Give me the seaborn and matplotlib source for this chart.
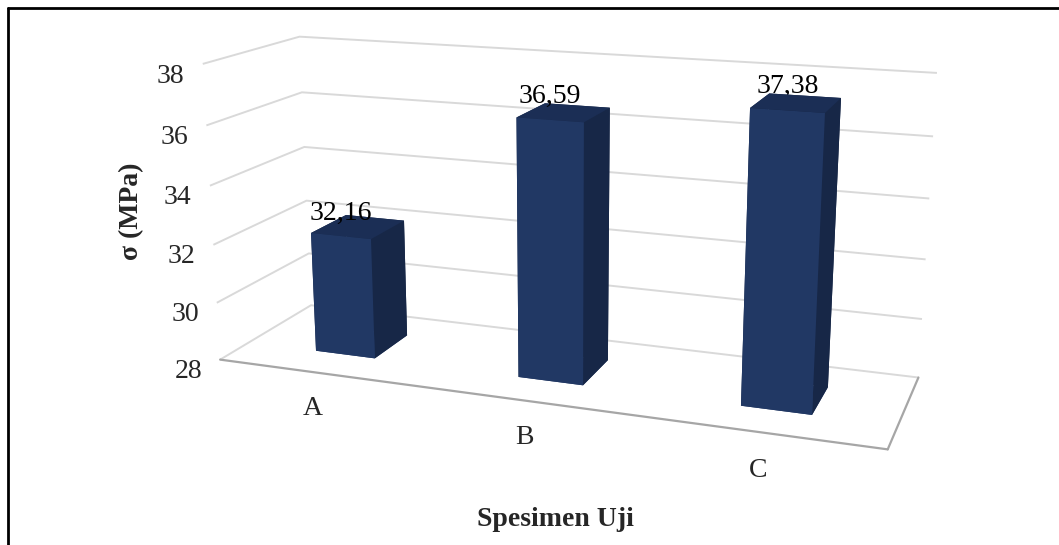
import matplotlib
matplotlib.use("Agg")
import matplotlib.pyplot as plt
from matplotlib.lines import Line2D
from matplotlib.transforms import ScaledTranslation
import numpy as np
import pandas as pd
import seaborn as sns

# ---- data -------------------------------------------------------------
categories = ["A", "B", "C"]
strength = [32.16, 36.59, 37.38]          # sigma (MPa)
value_labels = ["32,16", "36,59", "37,38"]
z_ticks = [28, 30, 32, 34, 36, 38]
z_tick_labels = ["28", "30", "32", "34", "36", "38"]

df = pd.DataFrame({"specimen": categories, "sigma": strength})

# ---- style ------------------------------------------------------------
sns.set_theme(style="white")
plt.rcParams["font.family"] = ["Liberation Serif", "DejaVu Serif"]
plt.rcParams["axes3d.automargin"] = False

base = "#213864"
front_c = base
top_c = "#1b2e55"
side_c = "#172747"
grid_c = "#d9d9d9"
floor_edge_c = "#a6a6a6"

W, H = 1059, 545
fig = plt.figure(figsize=(W / 100, H / 100), dpi=100)
side = 1100
cx, cy = 549, 308          # axes centre, pixels from bottom-left
ax = fig.add_axes([(cx - side / 2) / W, (cy - side / 2) / H, side / W, side / H],
                  projection="3d")

z0 = z_ticks[0]
bar_w, bar_d, bar_y0 = 0.30, 0.40, 0.30

for i, row in df.iterrows():
    # face order: bottom, top, front, back, left, right
    ax.bar3d(i - bar_w / 2, bar_y0, z0, bar_w, bar_d, row["sigma"] - z0,
             color=[base, top_c, front_c, side_c, side_c, side_c],
             shade=False, edgecolor="none")
    ax.text(i, bar_y0, row["sigma"] + 0.35, value_labels[i],
            ha="center", va="bottom", fontsize=20, color="black")

ax.set_xlim(-0.5, len(categories) - 0.5)
ax.set_ylim(0, 1)
ax.set_zlim(z_ticks[0], z_ticks[-1])

ax.set_xticks(range(len(categories)))
ax.set_xticklabels(categories, fontsize=20)
ax.set_yticks([])
ax.set_zticks(z_ticks)
ax.set_zticklabels(z_tick_labels, fontsize=20)
ax.zaxis.set_ticks_position("lower")

ax.set_proj_type("persp", focal_length=0.27)
ax.view_init(elev=15, azim=-70)
ax.set_box_aspect((4.07, 1.15, 1.83), zoom=0.69)

for axis in (ax.xaxis, ax.yaxis, ax.zaxis):
    axis.set_pane_color((1, 1, 1, 0))
    axis.line.set_color((1, 1, 1, 0))
    axis.label.set_visible(False)
    axis.get_offset_text().set_visible(False)
    axis._axinfo["tick"]["inward_factor"] = 0
    axis._axinfo["tick"]["outward_factor"] = 0
    axis._axinfo["grid"]["linewidth"] = 0
ax.zaxis._axinfo["grid"]["linewidth"] = 1.4
ax.zaxis._axinfo["grid"]["color"] = grid_c
ax.tick_params(axis="x", pad=19)
ax.tick_params(axis="z", pad=11)

# nudge the value-axis labels slightly left and up
nudge = ScaledTranslation(-5 / 100, 7 / 100, fig.dpi_scale_trans)
for tick in ax.zaxis.get_major_ticks():
    tick.label1.set_transform(tick.label1.get_transform() + nudge)

# visible front and right edges of the floor
xl, yl = ax.get_xlim(), ax.get_ylim()
ax.plot([xl[0], xl[1]], [yl[0], yl[0]], [z0, z0], color=floor_edge_c, lw=1.6)
ax.plot([xl[1], xl[1]], [yl[0], yl[1]], [z0, z0], color=floor_edge_c, lw=1.6)

fig.text(132 / W, 1 - 211 / H, "σ (MPa)", rotation=90, fontsize=20,
         fontweight="bold", ha="center", va="center")
fig.text(555 / W, 1 - 519 / H, "Spesimen Uji", fontsize=20,
         fontweight="bold", ha="center", va="center")

# frame lines along the left and top edges
fig.add_artist(Line2D([8 / W, 8 / W], [0, 1 - 8 / H], color="black", lw=2,
                      transform=fig.transFigure))
fig.add_artist(Line2D([8 / W, 1], [1 - 8 / H, 1 - 8 / H], color="black", lw=2,
                      transform=fig.transFigure))

fig.savefig("out.png", dpi=100, facecolor="white")
